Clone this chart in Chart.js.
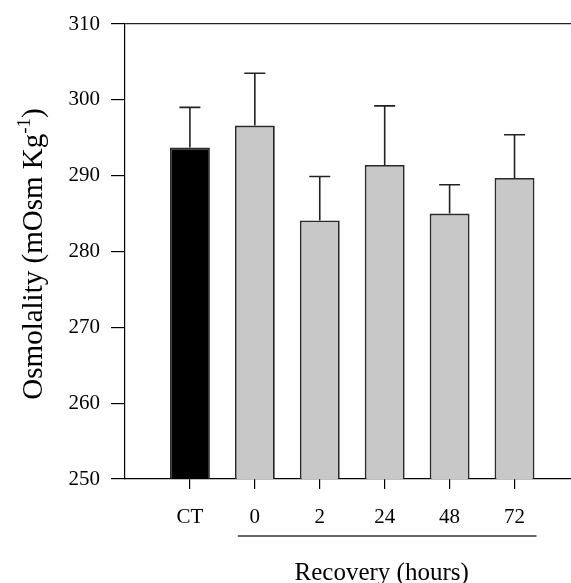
<!DOCTYPE html>
<html>
<head>
<meta charset="utf-8">
<script src="https://cdn.jsdelivr.net/npm/chart.js@4.4.1/dist/chart.umd.min.js"></script>
<style>
  html, body { margin: 0; padding: 0; background: #fff; overflow: hidden; }
</style>
</head>
<body>
<canvas id="c" width="571" height="583"></canvas>
<script>
// Plasma osmolality: control vs. recovery time points (mean + SEM)
const categories = ['CT', '0', '2', '24', '48', '72'];
const means = [293.7, 296.6, 284.1, 291.4, 285.0, 289.7];
const sems  = [5.3, 6.9, 5.8, 7.8, 3.8, 5.7];
const barColors = ['#000000', '#c8c8c8', '#c8c8c8', '#c8c8c8', '#c8c8c8', '#c8c8c8'];
const yTicks = [250, 260, 270, 280, 290, 300, 310];

const SERIF = "'Liberation Serif', 'Times New Roman', serif";

// upper error whiskers
const errorBars = {
  id: 'errorBars',
  afterDatasetsDraw(chart) {
    const { ctx, scales: { y } } = chart;
    const meta = chart.getDatasetMeta(0);
    ctx.save();
    ctx.strokeStyle = '#222';
    ctx.lineWidth = 1.6;
    meta.data.forEach((bar, i) => {
      const yTop = y.getPixelForValue(means[i]);
      const yEnd = y.getPixelForValue(means[i] + sems[i]);
      const half = 10.5;
      ctx.beginPath();
      ctx.moveTo(bar.x, yTop);
      ctx.lineTo(bar.x, yEnd);
      ctx.moveTo(bar.x - half, yEnd);
      ctx.lineTo(bar.x + half, yEnd);
      ctx.stroke();
    });
    ctx.restore();
  }
};

// axis titles: y title with superscript, recovery bracket below the x labels
const titles = {
  id: 'titles',
  afterDraw(chart) {
    const { ctx, scales: { x } } = chart;
    ctx.save();
    ctx.fillStyle = '#000';
    // y axis title
    ctx.translate(42, 254);
    ctx.rotate(-Math.PI / 2);
    const main = 'Osmolality (mOsm Kg';
    const sup = '-1';
    const close = ')';
    ctx.font = '29px ' + SERIF;
    const wMain = ctx.measureText(main).width;
    const wClose = ctx.measureText(close).width;
    ctx.font = '19px ' + SERIF;
    const wSup = ctx.measureText(sup).width;
    const total = wMain + wSup + wClose;
    let px = -total / 2;
    ctx.textBaseline = 'alphabetic';
    ctx.textAlign = 'left';
    ctx.font = '29px ' + SERIF;
    ctx.fillText(main, px, 0);
    px += wMain;
    ctx.font = '19px ' + SERIF;
    ctx.fillText(sup, px, -12);
    px += wSup;
    ctx.font = '29px ' + SERIF;
    ctx.fillText(close, px, 0);
    ctx.restore();

    // recovery bracket
    ctx.save();
    const x0 = x.getPixelForValue(2) - 17;
    const x1 = x.getPixelForValue(6) + 22;
    ctx.strokeStyle = '#333';
    ctx.lineWidth = 1.5;
    ctx.beginPath();
    ctx.moveTo(x0, 536);
    ctx.lineTo(x1, 536);
    ctx.stroke();
    ctx.fillStyle = '#000';
    ctx.font = '25px ' + SERIF;
    ctx.textAlign = 'center';
    ctx.textBaseline = 'middle';
    ctx.fillText('Recovery (hours)', x.getPixelForValue(4) - 3, 573);
    ctx.restore();
  }
};

new Chart(document.getElementById('c'), {
  type: 'bar',
  data: {
    datasets: [{
      data: means.map((m, i) => ({ x: i + 1, y: m })),
      backgroundColor: barColors,
      borderColor: '#2a2a2a',
      borderWidth: 1.8,
      borderSkipped: 'bottom',
      categoryPercentage: 1,
      barPercentage: 0.615
    }]
  },
  options: {
    responsive: false,
    animation: false,
    events: [],
    layout: { padding: { top: 24, left: 0, right: 0, bottom: 0 } },
    plugins: { legend: { display: false }, tooltip: { enabled: false } },
    scales: {
      x: {
        type: 'linear',
        offset: false,
        min: 0,
        max: 6.87,
        afterBuildTicks(scale) {
          scale.ticks = categories.map((c, i) => ({ value: i + 1 }));
        },
        afterFit(scale) { scale.height = 104; },
        border: { display: true, color: '#000', width: 1.2 },
        grid: { offset: false, drawOnChartArea: false, drawTicks: true, tickLength: 10, color: '#000', lineWidth: 1.2 },
        ticks: {
          autoSkip: false,
          maxRotation: 0,
          padding: 16,
          color: '#000',
          font: { family: SERIF, size: 21 },
          callback: (v) => categories[v - 1]
        }
      },
      y: {
        min: 250,
        max: 310,
        afterBuildTicks(scale) {
          scale.ticks = yTicks.map(v => ({ value: v }));
        },
        afterFit(scale) {
          scale.width = 125;
          scale.paddingTop = 0;
          scale.paddingBottom = 0;
        },
        border: { display: true, color: '#000', width: 1.2 },
        grid: {
          drawOnChartArea: true,
          drawTicks: true,
          tickLength: 14,
          color: (c) => (c.tick && c.tick.value === 310 ? '#222' : 'rgba(0,0,0,0)'),
          tickColor: '#000',
          lineWidth: 1.2
        },
        ticks: {
          padding: 11,
          color: '#000',
          font: { family: SERIF, size: 21 }
        }
      }
    }
  },
  plugins: [errorBars, titles]
});
</script>
</body>
</html>
